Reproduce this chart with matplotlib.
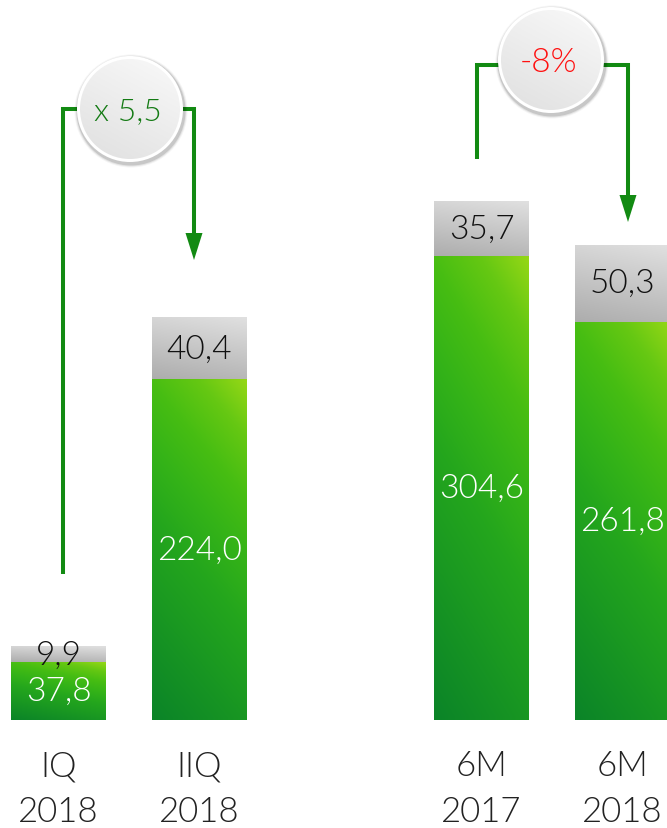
import numpy as np
import matplotlib.pyplot as plt
from matplotlib.patches import Circle, Polygon
from matplotlib.colors import LinearSegmentedColormap

plt.rcParams['font.family'] = ['Lato', 'DejaVu Sans']

# data
periods = ["IQ", "IIQ", "6M", "6M"]
years = ["2018", "2018", "2017", "2018"]
positions = [0, 1, 3, 4]
green_values = [37.8, 224.0, 304.6, 261.8]
grey_values = [9.9, 40.4, 35.7, 50.3]
green_labels = ["37,8", "224,0", "304,6", "261,8"]
grey_labels = ["9,9", "40,4", "35,7", "50,3"]

green_cmap = LinearSegmentedColormap.from_list("g", [
    (0.0, "#0b8428"), (0.45, "#24a61d"), (0.6, "#34b318"),
    (0.75, "#48be12"), (0.88, "#66c813"), (1.0, "#94d716")])
grey_cmap = LinearSegmentedColormap.from_list("gr", [
    (0.0, "#adadad"), (1.0, "#e0e0e0")])
badge_cmap = LinearSegmentedColormap.from_list("b", [
    (0.0, "#e0e0e0"), (1.0, "#f9f9f9")])

FW = 300


def gradient_box(ax, x0, x1, y0, y1, cmap, wy=0.75, wx=0.25):
    xx, yy = np.meshgrid(np.linspace(0, 1, 64), np.linspace(0, 1, 64))
    z = wy * yy + wx * xx
    ax.imshow(z, extent=(x0, x1, y0, y1), origin="lower", cmap=cmap,
              vmin=0, vmax=1, aspect="auto", interpolation="bilinear", zorder=2)


fig = plt.figure(figsize=(6.67, 8.29), dpi=100)
ax = fig.add_axes([0, 0, 1, 1])
px_per_unit = 1.522
ax.axis("off")
width = 95 / 141

for i, pos in enumerate(positions):
    g = green_values[i]
    r = grey_values[i]
    gradient_box(ax, pos - width / 2, pos + width / 2, 0, g, green_cmap)
    gradient_box(ax, pos - width / 2, pos + width / 2, g, g + r, grey_cmap, 0.8, 0.2)
    ax.text(pos, g / 2, green_labels[i], color="white", fontsize=24,
            fontweight=FW, ha="center", va="center", zorder=3)
    ax.text(pos, g + r / 2, grey_labels[i], color="#111111", fontsize=24,
            fontweight=FW, ha="center", va="center", zorder=3)
    ax.text(pos, -29.6, periods[i], color="#222222", fontsize=25,
            fontweight=FW, ha="center", va="center")
    ax.text(pos, -59.8, years[i], color="#222222", fontsize=25,
            fontweight=FW, ha="center", va="center")

ax.set_xlim(-58.5 / 141, (667 - 58.5) / 141)
ax.set_ylim(-108 / px_per_unit, 721 / px_per_unit)

# overlay in pixel coordinates for brackets and badges
ov = fig.add_axes([0, 0, 1, 1], zorder=5)
ov.axis("off")
ov.patch.set_alpha(0)

line_color = "#128a12"
lw = 2.9


def bracket(xl, yl_bottom, xr, y_top, tip_y, cx):
    ov.plot([xl, xl, cx - 45], [yl_bottom, y_top, y_top], color=line_color,
            lw=lw, solid_joinstyle="miter", solid_capstyle="butt", zorder=2)
    ov.plot([cx + 45, xr, xr], [y_top, y_top, tip_y - 25], color=line_color,
            lw=lw, solid_joinstyle="miter", solid_capstyle="butt", zorder=2)
    ov.add_patch(Polygon([(xr - 8.5, tip_y - 27), (xr + 8.5, tip_y - 27), (xr, tip_y)],
                         closed=True, color=line_color, lw=0, zorder=2))


def badge(cx, cy, text, color, fs):
    for rad, a in [(56.5, 0.04), (55.5, 0.07), (54.5, 0.12)]:
        ov.add_patch(Circle((cx + 1, cy + 2), rad, color="#000000", alpha=a,
                            lw=0, zorder=3))
    ov.add_patch(Circle((cx, cy), 53, color="white", lw=0, zorder=4))
    inner = Circle((cx, cy), 50, transform=ov.transData, facecolor="none", lw=0)
    xx, yy = np.meshgrid(np.linspace(0, 1, 64), np.linspace(0, 1, 64))
    im = ov.imshow(0.65 * (1 - yy) + 0.35 * xx, extent=(cx - 50, cx + 50, cy + 50, cy - 50),
                   origin="upper", cmap=badge_cmap, vmin=0, vmax=1, aspect="auto",
                   interpolation="bilinear", zorder=5)
    im.set_clip_path(inner)
    ov.text(cx - 2, cy + 2, text, color=color, fontsize=fs, fontweight=FW,
            ha="center", va="center", zorder=6)


bracket(63, 575, 194, 110, 261, 130)
bracket(477, 160, 628, 66, 223, 551)
badge(130, 110, "x 5,5", "#137a13", 23)
badge(551, 61, "-8%", "#ff1010", 24)

ov.set_xlim(0, 667)
ov.set_ylim(829, 0)

fig.savefig("out.png", dpi=100)
plt.close(fig)
